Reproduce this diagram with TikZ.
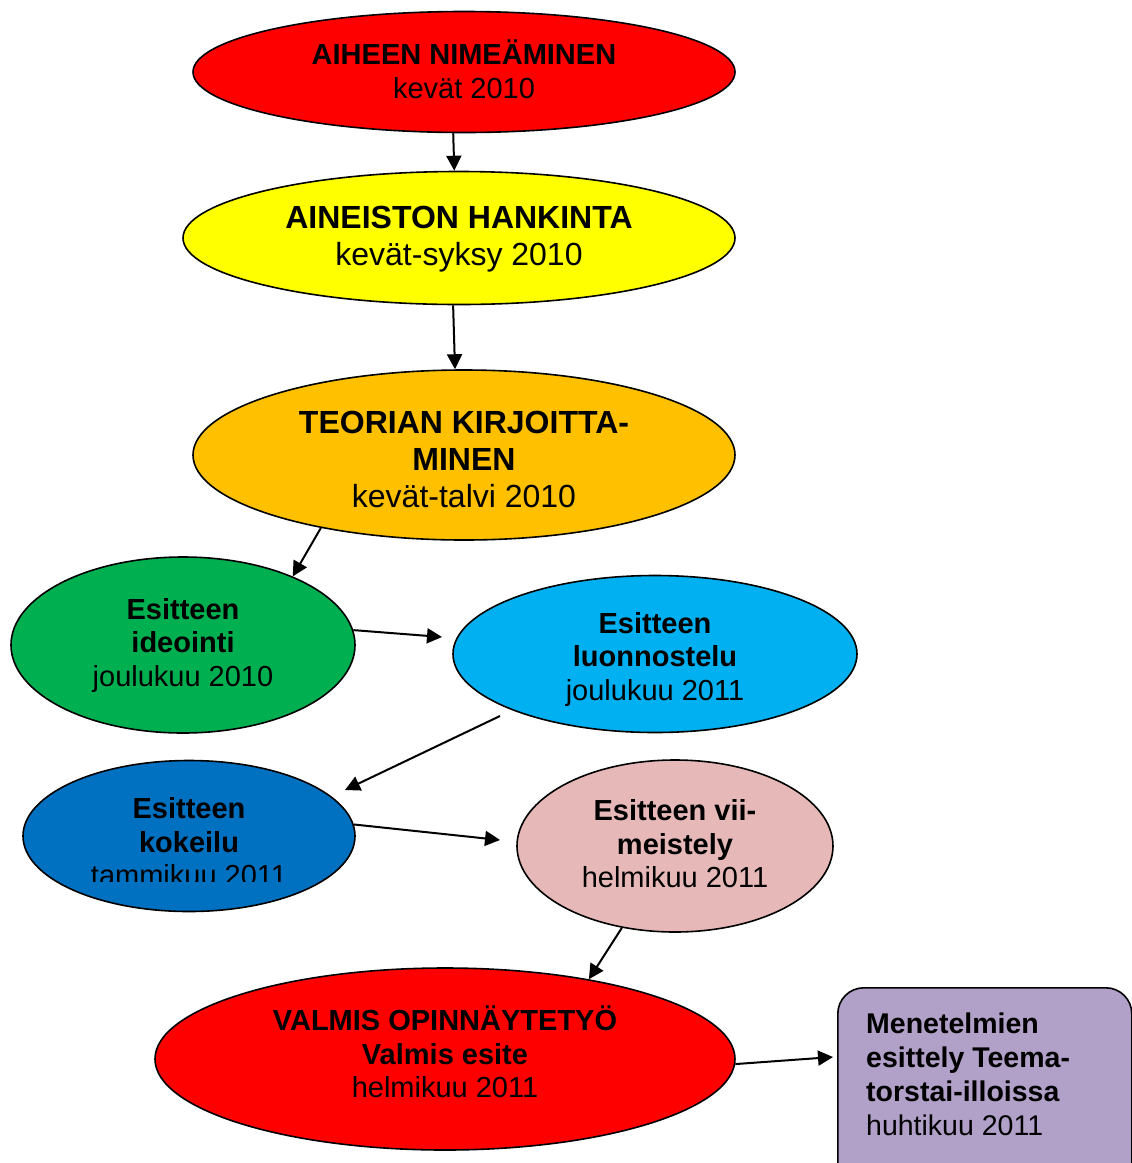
\documentclass[tikz,border=0pt]{standalone}
\usepackage{fontspec}
\setmainfont{Liberation Sans}
\usetikzlibrary{shapes.geometric,arrows.meta}
\definecolor{cRed}{HTML}{FF0000}
\definecolor{cYellow}{HTML}{FFFF00}
\definecolor{cOrange}{HTML}{FFC000}
\definecolor{cGreen}{HTML}{00B050}
\definecolor{cCyan}{HTML}{00B0F0}
\definecolor{cBlue}{HTML}{0070C0}
\definecolor{cPink}{HTML}{E6B9B8}
\definecolor{cPurple}{HTML}{B1A0C7}
\tikzset{
  bubble/.style={ellipse, draw=black, line width=1.6pt, inner sep=0pt},
  txt/.style={align=center, inner sep=0pt},
  fsA/.style={font=\fontsize{29}{34}\selectfont},
  fsB/.style={font=\fontsize{32}{37}\selectfont},
  fsC/.style={font=\fontsize{29}{33.5}\selectfont},
  link/.style={line width=2pt, -{Triangle[length=15pt,width=15pt]}},
}
\begin{document}
\begin{tikzpicture}[x=1pt,y=-1pt]
\useasboundingbox (0,0) rectangle (1132,1163);
\clip (0,0) rectangle (1132,1163);

% shapes
\node[bubble, fill=cRed, minimum width=542pt, minimum height=121pt] (aihe) at (464,72) {};
\node[bubble, fill=cYellow, minimum width=552pt, minimum height=133pt] (aineisto) at (459,238) {};
\node[bubble, fill=cOrange, minimum width=542pt, minimum height=170pt] (teoria) at (464,455) {};
\node[bubble, fill=cGreen, minimum width=344pt, minimum height=176pt] (ideointi) at (183,645) {};
\node[bubble, fill=cCyan, minimum width=404pt, minimum height=157pt] (luonnos) at (655,654) {};
\node[bubble, fill=cBlue, minimum width=332pt, minimum height=151pt] (kokeilu) at (189,836) {};
\node[bubble, fill=cPink, minimum width=316pt, minimum height=172pt] (viimeistely) at (675,846) {};
\node[bubble, fill=cRed, minimum width=580pt, minimum height=182pt] (valmis) at (445,1059) {};
\node[draw=black, line width=1.6pt, fill=cPurple, rounded corners=26pt, minimum width=294pt,
  minimum height=210pt, anchor=north west, inner sep=0pt] (menetelmat) at (837,987) {};

% texts
\node[txt, fsA] (aiheT) at (464,69) {\textbf{AIHEEN NIMEÄMINEN}\\kevät 2010};
\node[txt, fsB] (aineistoT) at (459,239) {\textbf{AINEISTON HANKINTA}\\kevät-syksy 2010};
\node[txt, fsB] (teoriaT) at (464,459) {\textbf{TEORIAN KIRJOITTA-}\\\textbf{MINEN}\\kevät-talvi 2010};
\node[txt, fsC] (ideointiT) at (183,645) {\textbf{Esitteen}\\\textbf{ideointi}\\joulukuu 2010};
\node[txt, fsC] (luonnosT) at (655,659) {\textbf{Esitteen}\\\textbf{luonnostelu}\\joulukuu 2011};
\begin{scope}
  \clip (20,760) rectangle (360,881.5);
  \node[txt, fsC] (kokeiluT) at (189,842) {\textbf{Esitteen}\\\textbf{kokeilu}\\tammikuu 2011};
\end{scope}
\node[txt, fsC] (viimeistelyT) at (675,844) {\textbf{Esitteen vii-}\\\textbf{meistely}\\helmikuu 2011};
\node[txt, fsC] (valmisT) at (445,1052) {\textbf{VALMIS OPINNÄYTETYÖ}\\\textbf{Valmis esite}\\helmikuu 2011};
\node[font=\fontsize{28.5}{34}\selectfont, align=left, anchor=north west, inner sep=0pt]
  (menetelmatT) at (866,1013)
  {\textbf{Menetelmien}\\\textbf{esittely Teema-}\\\textbf{torstai-illoissa}\\huhtikuu 2011};

% connectors
\coordinate (e4) at (442,637);
\coordinate (s5) at (500,716);
\coordinate (e5) at (345,790);
\coordinate (e6) at (500,840);
\coordinate (e8) at (833,1057);

\draw[link] (aihe.260.7) -- (aineisto.94.3);
\draw[link] (aineisto.265.7) -- (teoria.96.7);
\draw[link] (teoria.207.7) -- (ideointi.32.7);
\draw[link] (ideointi.5) -- (e4);
\draw[link] (s5) -- (e5);
\draw[link] (kokeilu.4.5) -- (e6);
\draw[link] (viimeistely.237.9) -- (valmis.29.5);
\draw[link] (valmis.-1.4) -- (e8);
\end{tikzpicture}
\end{document}
